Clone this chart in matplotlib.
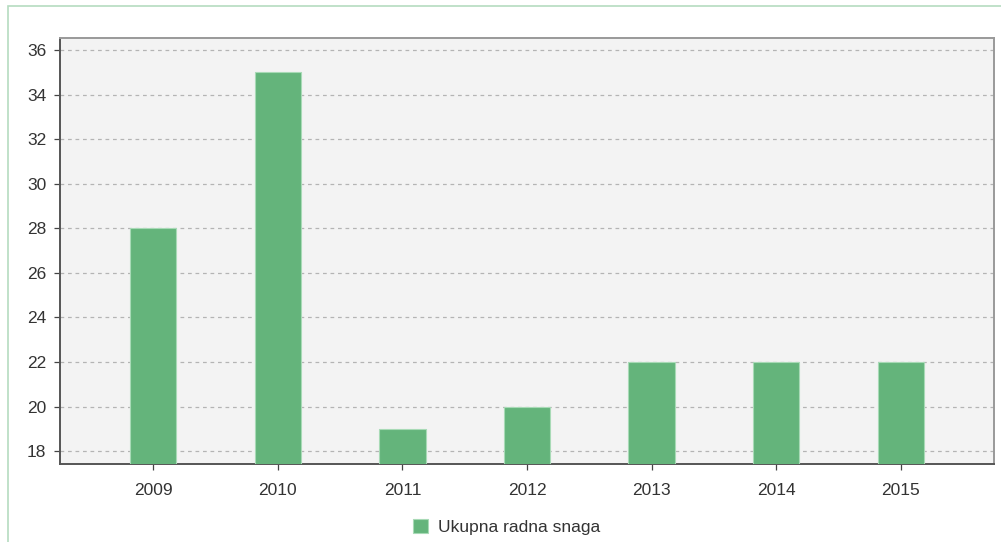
import matplotlib
matplotlib.use("Agg")
import matplotlib.pyplot as plt
from matplotlib.patches import Rectangle

years = ["2009", "2010", "2011", "2012", "2013", "2014", "2015"]
values = [28, 35, 19, 20, 22, 22, 22]
series_name = "Ukupna radna snaga"
yticks = [18, 20, 22, 24, 26, 28, 30, 32, 34, 36]

plt.rcParams["font.family"] = ["Liberation Sans", "DejaVu Sans"]

W, H = 1001, 542
fig = plt.figure(figsize=(W / 100, H / 100), dpi=100)
fig.patch.set_facecolor("white")

# outer light-green frame
fig.add_artist(Rectangle((8 / W, -0.01), 1.2, (H - 5.5) / H + 0.01,
                         transform=fig.transFigure, fill=False,
                         edgecolor="#b5dcc0", linewidth=1.2))

ax = fig.add_axes([60 / W, 1 - 464 / H, (994 - 60) / W, (464 - 38) / H])
ax.set_facecolor("#f3f3f3")
x = list(range(len(years)))
ax.bar(x, values, width=0.37, color="#64b47b", edgecolor="#a8dab6",
       linewidth=0.8, zorder=3, label=series_name)
ax.set_xlim(-0.75, 6.75)
ax.set_ylim(17.42, 36.54)
ax.set_xticks(x)
ax.set_xticklabels(years)
ax.set_yticks(yticks)
ax.grid(axis="y", linestyle=(0, (3, 3)), color="#b4b4b4", linewidth=0.9, zorder=1)
ax.tick_params(axis="both", labelsize=12.5, colors="#444444", length=4,
               width=0.9, labelcolor="#333333")
ax.tick_params(axis="x", pad=10)
ax.tick_params(axis="y", pad=6)
for s in ["left", "bottom"]:
    ax.spines[s].set_color("#555555")
    ax.spines[s].set_linewidth(1.4)
for s in ["top", "right"]:
    ax.spines[s].set_color("#999999")
    ax.spines[s].set_linewidth(1.4)

leg = fig.legend(loc="center", bbox_to_anchor=(507 / W, 1 - 527 / H),
                 frameon=False, fontsize=12.5, handlelength=0.85,
                 handleheight=0.85, handletextpad=0.6)
for t in leg.get_texts():
    t.set_color("#333333")

fig.savefig("out.png", dpi=100, facecolor="white")
